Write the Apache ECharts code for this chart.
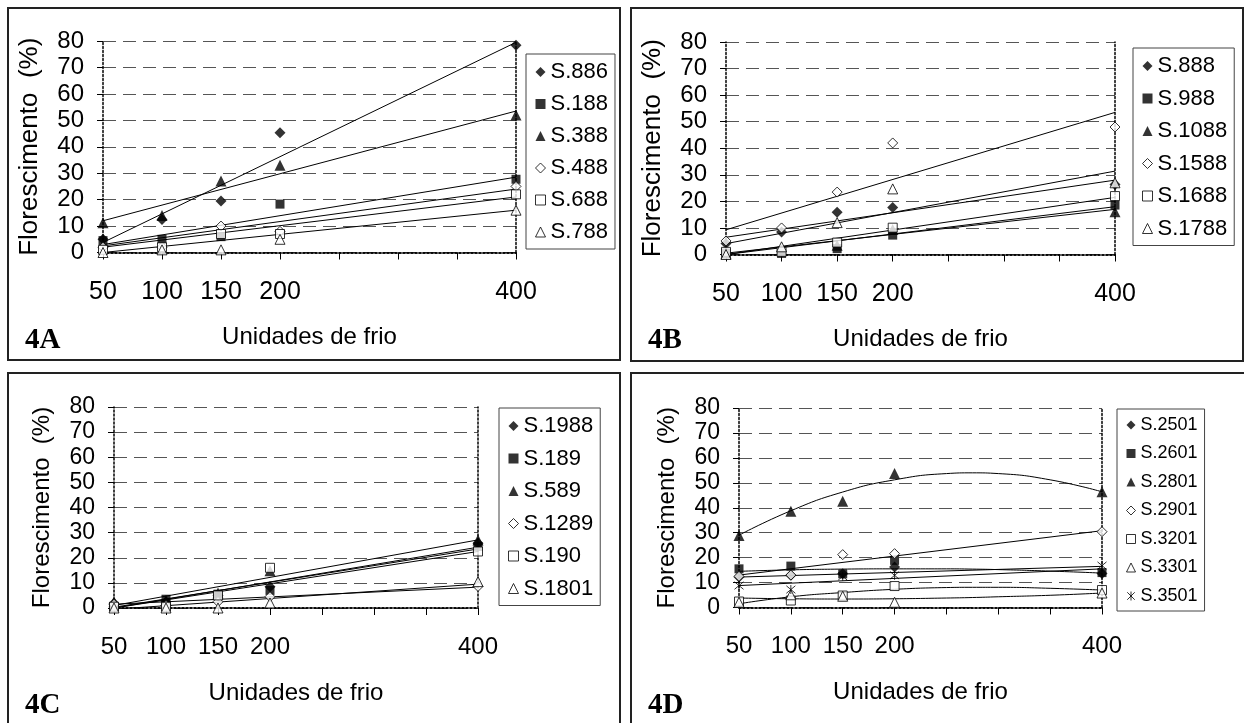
<!DOCTYPE html>
<html>
<head>
<meta charset="utf-8">
<title>Florescimento x Unidades de frio</title>
<script src="https://cdn.jsdelivr.net/npm/echarts@6/dist/echarts.min.js"></script>
<style>
    html, body { margin: 0; padding: 0; background: #fff; }
    #main { width: 1244px; height: 723px; }
</style>
</head>
<body>
<div id="main"></div>
<script>
    // eixo x: unidades de frio
    const unidades = [50, 100, 150, 200, 400];
    const trendX = [50, 400];
    const curveX = [50, 100, 150, 200, 250, 275, 300, 350, 400];

    // 4A
    const namesA = ['S.886', 'S.188', 'S.388', 'S.488', 'S.688', 'S.788'];
    const valuesA = [
        [5, 12.5, 19.5, 45.3, 78.4],
        [4.5, 5, 6, 18.3, 27.7],
        [11.3, 14, 27, 33, 52],
        [2, 2, 10, 8, 25],
        [1, 2, 7, 7, 22],
        [0, 1, 1, 5, 16]
    ];
    const trendA = [[3.8, 79.5], [3, 28.5], [12, 53.5], [2.5, 24], [2, 21], [0, 16]];

    // 4B
    const namesB = ['S.888', 'S.988', 'S.1088', 'S.1588', 'S.1688', 'S.1788'];
    const valuesB = [
        [4.1, 8.5, 15.9, 17.7, 26.4],
        [0.6, 0.4, 2.2, 7.3, 18.6],
        [0.5, 1.6, 3.5, 9.4, 16.1],
        [5.1, 10, 23.5, 42, 48],
        [1, 1, 4.5, 10.1, 22],
        [0, 2.9, 12, 24.7, 27]
    ];
    const trendB = [[6.5, 28], [0, 18], [0.5, 17], [9.3, 53.5], [0, 21.5], [4.1, 31.4]];

    // 4C
    const namesC = ['S.1988', 'S.189', 'S.589', 'S.1289', 'S.190', 'S.1801'];
    const valuesC = [
        [1.9, 2.5, 5, 8.5, 25.8],
        [0.5, 3.5, 5.5, 7, 24.5],
        [2.5, 3, 6, 14.8, 27.1],
        [1.5, 1, 2.5, 4.5, 8.6],
        [0.5, 0.5, 5, 16, 22.5],
        [0, 0, 0, 2, 10.5]
    ];
    const trendC = [[0, 24.2], [0, 22.5], [1, 27.1], [1.5, 8.3], [0.3, 23.5], [-0.5, 9.5]];

    // 4D
    const namesD = ['S.2501', 'S.2601', 'S.2801', 'S.2901', 'S.3201', 'S.3301', 'S.3501'];
    const valuesD = [
        [12.2, 12.9, 13.5, 16.2, 13.6],
        [15.5, 16.6, 13.5, 18.9, 14],
        [28.9, 38.6, 42.6, 53.7, 46.4],
        [12.5, 13, 21.2, 21.6, 30.4],
        [2.4, 2.8, 4.8, 8.6, 7],
        [2.1, 5.1, 4.5, 2.1, 5.8],
        [8.8, 7.2, 12.5, 12.9, 16.8]
    ];
    const trendD = [[12.2, 16.5], null, null, [13, 30.8], null, null, [8.8, 15.5]];
    // curvas de tendência (em curveX)
    const curveD2601 = [14.5, 15.1, 15.4, 15.5, 15.5, 15.4, 15.2, 14.6, 13.8];
    const curveD2801 = [29, 38.8, 46.3, 51.2, 53.7, 54, 53.7, 51.2, 46.4];
    const curveD3201 = [1.5, 4.3, 6, 7.3, 8, 8.1, 8.1, 7.7, 7];
    const curveD3301 = [3.8, 3.5, 3.4, 3.5, 3.8, 4, 4.3, 4.9, 5.8];
    const curvesD = [null, curveD2601, curveD2801, null, curveD3201, curveD3301, null];

    const FONT = 'Liberation Sans';
    const ASTERISK = 'path://M0,0L10,10M10,0L0,10M5,-1L5,11';
    const markers = [
        { symbol: 'diamond', size: 11, fill: '#000' },
        { symbol: 'rect', size: 9, fill: '#000' },
        { symbol: 'triangle', size: 11, fill: '#000' },
        { symbol: 'diamond', size: 10, fill: '#fff' },
        { symbol: 'rect', size: 9, fill: '#fff' },
        { symbol: 'triangle', size: 10, fill: '#fff' },
        { symbol: ASTERISK, size: 9, fill: '#000' }
    ];

    const panels = [
        { grid: { left: 103, top: 41, width: 413, height: 211.5 }, names: namesA, values: valuesA, trend: trendA, curves: [],
          legend: { left: 526, top: 54, font: 22, step: 32, icon: 10 }, yFont: 24, xFont: 25, titleFont: 26, label: '4A', lx: 25, ly: 340 },
        { grid: { left: 726, top: 42, width: 389, height: 212.5 }, names: namesB, values: valuesB, trend: trendB, curves: [],
          legend: { left: 1133, top: 48, font: 22, step: 32.5, icon: 10 }, yFont: 24, xFont: 25, titleFont: 26, label: '4B', lx: 648, ly: 340 },
        { grid: { left: 114, top: 407, width: 364, height: 201 }, names: namesC, values: valuesC, trend: trendC, curves: [],
          legend: { left: 499, top: 408, font: 22, step: 32.5, icon: 10 }, yFont: 23, xFont: 24, titleFont: 24, label: '4C', lx: 25, ly: 705 },
        { grid: { left: 739, top: 408, width: 363, height: 199.5 }, names: namesD, values: valuesD, trend: trendD, curves: curvesD,
          legend: { left: 1117, top: 409, font: 18, step: 28.5, icon: 9 }, yFont: 23, xFont: 24, titleFont: 24, label: '4D', lx: 648, ly: 705 }
    ];

    const dotted = { color: '#000', width: 1.5, type: [2, 2] };

    let grids = [], xAxes = [], yAxes = [], series = [], legends = [], graphics = [];

    panels.forEach((p, pi) => {
        grids.push(p.grid);
        const ax = 2 * pi;
        // eixo x de baixo e borda de cima
        xAxes.push({
            gridIndex: pi, type: 'value', min: 50, max: 400, interval: 50,
            name: 'Unidades de frio', nameLocation: 'middle', nameGap: 73,
            nameTextStyle: { fontFamily: FONT, fontSize: 24, color: '#000' },
            axisLine: { lineStyle: dotted },
            axisTick: { show: true, length: 7, lineStyle: { color: '#000', width: 1 } },
            axisLabel: {
                margin: 27, fontFamily: FONT, fontSize: p.xFont, color: '#000',
                formatter: v => unidades.indexOf(v) >= 0 ? String(v) : ''
            },
            splitLine: { show: false }
        });
        xAxes.push({
            gridIndex: pi, type: 'value', min: 50, max: 400, position: 'top',
            axisLine: { lineStyle: dotted }, axisTick: { show: false }, axisLabel: { show: false }, splitLine: { show: false }
        });
        // eixo y da esquerda e borda da direita
        yAxes.push({
            gridIndex: pi, type: 'value', min: 0, max: 80, interval: 10,
            name: 'Florescimento  (%)', nameLocation: 'middle', nameGap: 60,
            nameTextStyle: { fontFamily: FONT, fontSize: p.titleFont, color: '#000' },
            axisLine: { show: true, lineStyle: dotted },
            axisTick: { show: true, length: 6, lineStyle: { color: '#000', width: 1 } },
            axisLabel: { margin: 19, fontFamily: FONT, fontSize: p.yFont, color: '#000' },
            splitLine: { show: true, lineStyle: { color: '#555', width: 1, type: [13, 7] } }
        });
        yAxes.push({
            gridIndex: pi, type: 'value', min: 0, max: 80, position: 'right',
            axisLine: { show: true, lineStyle: dotted }, axisTick: { show: false }, axisLabel: { show: false }, splitLine: { show: false }
        });

        const legendData = [];
        p.names.forEach((name, i) => {
            const m = markers[i];
            const style = { color: m.fill, borderColor: '#000', borderWidth: m.fill === '#fff' || m.symbol === ASTERISK ? 1 : 0 };
            series.push({
                name: name, type: 'scatter', xAxisIndex: ax, yAxisIndex: ax,
                symbol: m.symbol, symbolSize: m.size, itemStyle: style, z: 4,
                data: unidades.map((x, k) => [x, p.values[i][k]])
            });
            legendData.push({ name: name, icon: m.symbol, itemStyle: style });

            let lineData, smooth = false;
            if (p.curves[i]) {
                lineData = curveX.map((x, k) => [x, p.curves[i][k]]);
                smooth = true;
            } else {
                lineData = trendX.map((x, k) => [x, p.trend[i][k]]);
            }
            series.push({
                name: name + ' tendência', type: 'line', xAxisIndex: ax, yAxisIndex: ax,
                data: lineData, smooth: smooth, showSymbol: false, silent: true, z: 3,
                lineStyle: { color: '#000', width: 1 }
            });
        });

        const lh = p.legend.font + 2;
        legends.push({
            orient: 'vertical', left: p.legend.left, top: p.legend.top,
            data: legendData, selectedMode: false,
            itemWidth: p.legend.icon, itemHeight: p.legend.icon, itemGap: p.legend.step - lh,
            padding: [6, 7, 5, 9],
            borderColor: '#444', borderWidth: 1, backgroundColor: '#fff',
            textStyle: { fontFamily: FONT, fontSize: p.legend.font, lineHeight: lh, color: '#000' }
        });

        graphics.push({
            type: 'text', left: p.lx, top: p.ly - 14,
            style: { text: p.label, font: 'bold 29px "Liberation Serif"', fill: '#000' }
        });
    });

    // molduras dos painéis
    const frames = [[8, 8, 612, 352], [631, 8, 612, 353], [8, 373, 612, 400], [631, 373, 640, 400]];
    frames.forEach(f => {
        graphics.push({
            type: 'rect', z: 10, silent: true,
            shape: { x: f[0], y: f[1], width: f[2], height: f[3] },
            style: { fill: null, stroke: '#222', lineWidth: 2 }
        });
    });

    const chart = echarts.init(document.getElementById('main'));
    chart.setOption({
        animation: false,
        backgroundColor: '#fff',
        grid: grids,
        xAxis: xAxes,
        yAxis: yAxes,
        legend: legends,
        series: series,
        graphic: graphics
    });
</script>
</body>
</html>
